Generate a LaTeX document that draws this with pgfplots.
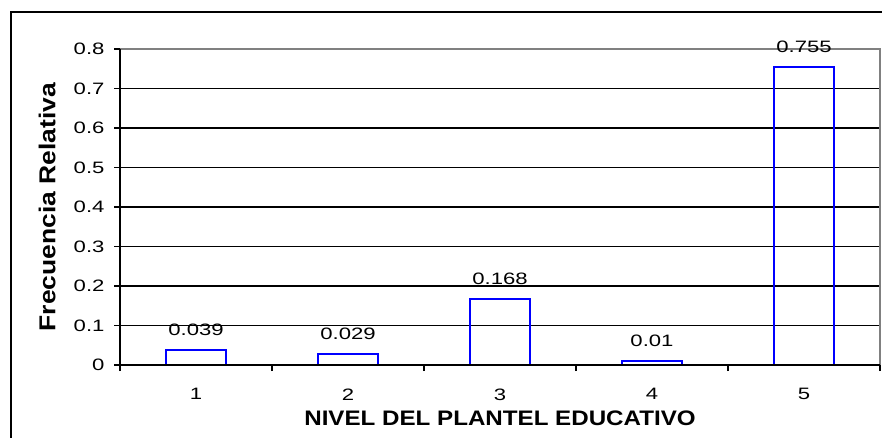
\documentclass[border=0pt]{standalone}
\usepackage{pgfplots}
\pgfplotsset{compat=1.18}
\usepackage{fontspec}
\setmainfont{Liberation Sans}[FakeStretch=1.34]
\newfontfamily\titlefont{Liberation Sans}[FakeStretch=1.15]
\definecolor{barblue}{RGB}{0,0,255}
\definecolor{framegray}{RGB}{128,128,128}

\begin{document}
\begin{tikzpicture}[x=1pt,y=1pt]
\useasboundingbox (0,0) rectangle (882,437);
\clip (0,0) rectangle (882,437);
% outer chart frame (right and bottom edges fall outside the picture)
\draw[line width=2pt] (11,-20) rectangle (900,425);
\begin{axis}[
    at={(120pt,72pt)}, anchor=south west,
    scale only axis, width=760pt, height=316pt,
    ybar, bar width=60pt, bar shift=0pt,
    xmin=0.5, xmax=5.5, ymin=0, ymax=0.8,
    xtick={1,2,3,4,5},
    minor xtick={0.5,1.5,2.5,3.5,4.5,5.5},
    ytick={0,0.1,0.2,0.3,0.4,0.5,0.6,0.7,0.8},
    xtick pos=bottom, ytick pos=left,
    tick align=outside,
    major tick length=6pt, minor tick length=6pt,
    major x tick style={draw=none},
    tick style={black, line width=1.5pt},
    ymajorgrids,
    major grid style={black, line width=1.7pt},
    axis line style={draw=none},
    clip=false,
    /pgf/number format/assume math mode=true,
    yticklabel style={/pgf/number format/fixed, /pgf/number format/precision=1, xshift=-6pt},
    xticklabel style={yshift=-14pt},
    tick label style={font=\fontsize{16.5}{19}\selectfont},
    xlabel={NIVEL DEL PLANTEL EDUCATIVO},
    ylabel={Frecuencia Relativa},
    xlabel style={font=\titlefont\bfseries\fontsize{21}{24}\selectfont,
        at={(axis description cs:0.5,-0.168)}, anchor=center},
    ylabel style={font=\titlefont\bfseries\fontsize{23}{26}\selectfont,
        at={(axis description cs:-0.096,0.5)}, anchor=center, rotate=0},
    nodes near coords,
    point meta=explicit symbolic,
    every node near coord/.append style={font=\fontsize{16.5}{19}\selectfont,
        anchor=south, inner sep=0pt, yshift=13pt, black},
]
\addplot[draw=barblue, line width=2pt, fill=none] coordinates {
    (1,0.039) [0.039]
    (2,0.029) [0.029]
    (3,0.168) [0.168]
    (4,0.01)  [0.01]
    (5,0.755) [0.755]
};
\draw[framegray, line width=1.5pt] (rel axis cs:0,1) -- (rel axis cs:1,1) -- (rel axis cs:1,0);
\draw[black, line width=1.7pt] (rel axis cs:0,1) -- (rel axis cs:0,0) -- (rel axis cs:1,0);
\end{axis}
\end{tikzpicture}
\end{document}
